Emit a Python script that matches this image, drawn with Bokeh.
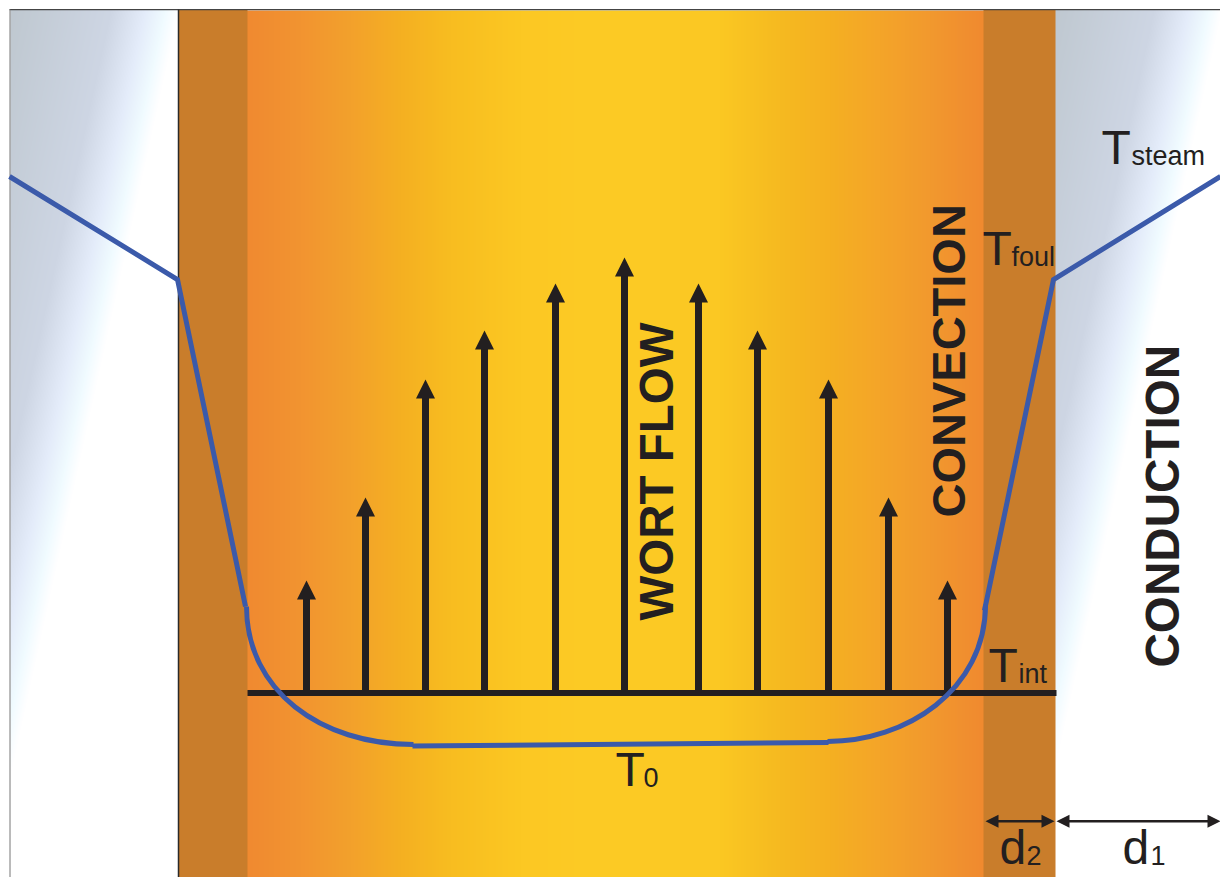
import numpy as np
from bokeh.plotting import figure
from bokeh.models import Range1d
from bokeh.core.properties import value
from bokeh.embed import file_html
from bokeh.resources import INLINE

# arrows of the wort flow profile
arrow_x = [306, 365, 425, 484, 555, 624, 698, 757, 828, 888, 947]
arrow_tip = [580, 497, 379, 330, 283, 257, 283, 330, 379, 497, 580]
base_y = 692.5

# temperature profile, in segments
left_steam_x = [9, 177, 245]
left_steam_y = [176, 279, 606]
bulk_x = [412, 828]
bulk_y = [745.5, 742]
right_steam_x = [984, 1053, 1220]
right_steam_y = [610, 279, 176]
# the two boundary-layer bends: start, end and the two control points
bend_x0 = [246, 985]
bend_y0 = [606, 604]
bend_x1 = [413, 827]
bend_y1 = [744, 741]
bend_cx0 = [246, 985]
bend_cy0 = [690, 690]
bend_cx1 = [320, 905]
bend_cy1 = [744, 741]

# gradient stops
core_pos = [247, 300, 350, 400, 450, 520, 600, 720, 780, 830, 880, 930, 983]
core_col = ["#f08a30", "#f29431", "#f3a12c", "#f5b022", "#f8bd20", "#fcc823", "#fdcb25",
            "#fbc823", "#f6ba20", "#f5b022", "#f4a529", "#f2992e", "#f08a30"]
steam_pos = [0.0, 0.6, 0.8, 0.92, 1.0]
steam_col = ["#bfc8d0", "#ced6e4", "#e4ecfa", "#f0fbff", "#ffffff"]

INK = "#231f20"
BLUE = "#3b5aaa"
WALL = "#c97d2b"


def rgb(c):
    return [int(c[i:i + 2], 16) for i in (1, 3, 5)]


def to_rgba(arr):
    out = np.zeros(arr.shape[:2], dtype=np.uint32)
    view = out.view(dtype=np.uint8).reshape(arr.shape[0], arr.shape[1], 4)
    view[..., :3] = arr.astype(np.uint8)
    view[..., 3] = 255
    return out


def steam_image(w, h):
    xx, yy = np.meshgrid(np.arange(w) + 0.5, np.arange(h) + 0.5)
    u = np.clip((xx + 0.22 * yy) / 168.0, 0, 1)
    cols = np.array([rgb(c) for c in steam_col], dtype=float)
    return np.stack([np.interp(u, steam_pos, cols[:, k]) for k in range(3)], axis=-1)


p = figure(width=1220, height=877, x_range=Range1d(0, 1220), y_range=Range1d(877, 0),
           output_backend="svg", toolbar_location=None, min_border=0, outline_line_color=None)
p.xaxis.visible = False
p.yaxis.visible = False
p.grid.visible = False
p.background_fill_color = "white"
p.border_fill_color = "white"

# steam side panels
p.image_rgba(image=[to_rgba(steam_image(168, 868))], x=10, y=9, dw=168, dh=868)
p.image_rgba(image=[to_rgba(steam_image(167, 868))], x=1053, y=9, dw=167, dh=868)

# wort core
cols = np.array([rgb(c) for c in core_col], dtype=float)
xs = np.arange(243, 988)
core = np.stack([np.interp(xs + 0.5, core_pos, cols[:, k]) for k in range(3)], axis=-1)[None, :, :]
p.image_rgba(image=[to_rgba(core)], x=243, y=10, dw=745, dh=867)

# fouling walls
p.quad(left=[178, 983], right=[247, 1055], top=[9, 9], bottom=[877, 877],
       fill_color=WALL, line_color=None)

# frame
p.segment(x0=[9, 9.5, 178], y0=[9.2, 9, 9], x1=[1220, 9.5, 178], y1=[9.2, 877, 877],
          line_color=["#444444", "#777777", "#2a2a2a"], line_width=[1.2, 1, 1.5])

# base line and arrows
p.segment(x0=[247], y0=[base_y], x1=[1056], y1=[base_y], line_color=INK, line_width=6)
head_w, head_h = 19, 19
p.segment(x0=arrow_x, y0=[base_y] * len(arrow_x), x1=arrow_x,
          y1=[t + head_h - 1 for t in arrow_tip], line_color=INK, line_width=7)
p.patches(xs=[[x - head_w / 2, x, x + head_w / 2] for x in arrow_x],
          ys=[[t + head_h, t, t + head_h] for t in arrow_tip],
          fill_color=INK, line_color=None)

# temperature curve
for cx, cy in ((left_steam_x, left_steam_y), (bulk_x, bulk_y), (right_steam_x, right_steam_y)):
    p.line(cx, cy, line_color=BLUE, line_width=5, line_join="miter")
p.bezier(x0=bend_x0, y0=bend_y0, x1=bend_x1, y1=bend_y1, cx0=bend_cx0, cy0=bend_cy0,
         cx1=bend_cx1, cy1=bend_cy1, line_color=BLUE, line_width=5)

# dimension arrows
dim_y = 820.7
dim_spans = [(985, 1054), (1056, 1220)]
for a, b in dim_spans:
    p.segment(x0=[a + 8], y0=[dim_y], x1=[b - 8], y1=[dim_y], line_color=INK, line_width=2.5)
    p.patches(xs=[[a, a + 13, a + 13], [b, b - 13, b - 13]],
              ys=[[dim_y, dim_y - 6.5, dim_y + 6.5], [dim_y, dim_y - 6.5, dim_y + 6.5]],
              fill_color=INK, line_color=None)

FONT = value("Liberation Sans")
big_off, sub_off, rot_off = 18, 10, 18

# large letters
big_txt = ["T", "T", "T", "T", "d", "d"]
big_x = [1101, 982, 988, 615, 999, 1122]
big_y = [165, 266, 683, 787, 865, 865]
p.text(x=big_x, y=[v - big_off for v in big_y], text=big_txt, text_font=FONT, text_font_size="48px",
       text_color=INK, text_align="left", text_baseline="alphabetic")

# subscripts
sub_txt = ["steam", "foul", "int", "0", "2", "1"]
sub_x = [1131, 1011, 1018, 643, 1026, 1150]
sub_y = [165, 266, 683, 787, 865, 865]
p.text(x=sub_x, y=[v - sub_off for v in sub_y], text=sub_txt, text_font=FONT, text_font_size="27px",
       text_color=INK, text_align="left", text_baseline="alphabetic")

# rotated bold labels
rot_txt = ["WORT FLOW", "CONVECTION", "CONDUCTION"]
rot_x = [674, 966, 1180]
rot_y = [620, 517, 667]
rot_size = ["47.5px", "47px", "47.6px"]
p.text(x=[v - rot_off for v in rot_x], y=rot_y, text=rot_txt, angle=np.pi / 2, text_font=FONT,
       text_font_size=rot_size, text_font_style="bold", text_color=INK,
       text_align="left", text_baseline="alphabetic")

open("out.html", "w").write(file_html(p, INLINE))
